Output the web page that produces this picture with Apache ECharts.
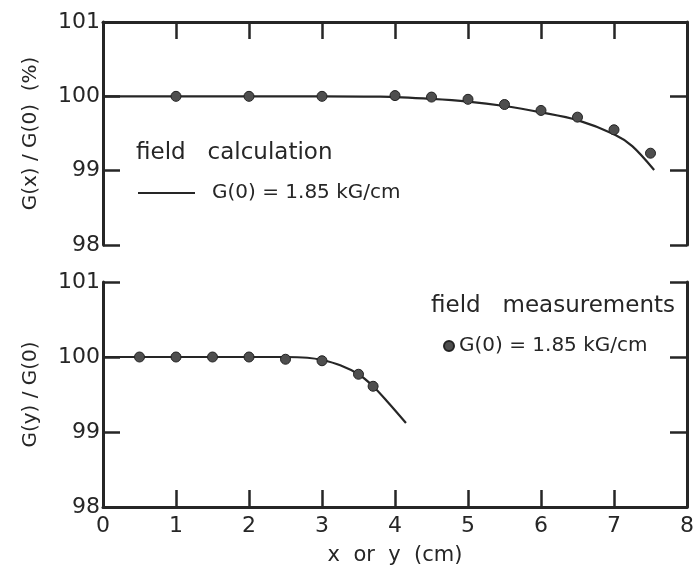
<!DOCTYPE html>
<html>
<head>
<meta charset="utf-8">
<script src="https://cdn.jsdelivr.net/npm/echarts@6/dist/echarts.min.js"></script>
<style>
html,body{margin:0;padding:0;background:#fff;}
#chart{width:698px;height:579px;}
</style>
</head>
<body>
<div id="chart"></div>
<script>
// ---- data ----
const xTicks = [0, 1, 2, 3, 4, 5, 6, 7, 8];
const yTicks = [98, 99, 100, 101];

// top panel: G(x)/G(0) (%)
const calcX = [[0,100],[1,100],[2,100],[3,100],[3.8,99.995],[4.5,99.965],[5,99.93],[5.5,99.87],[6,99.785],[6.5,99.68],[7,99.49],[7.25,99.33],[7.55,99.01]];
const measX = [[1,100],[2,100],[3,100],[4,100.01],[4.5,99.99],[5,99.96],[5.5,99.89],[6,99.81],[6.5,99.72],[7,99.55],[7.5,99.235]];

// bottom panel: G(y)/G(0)
const calcY = [[0,100],[1,100],[2,100],[2.5,100],[2.8,99.99],[3,99.96],[3.25,99.89],[3.5,99.77],[3.7,99.61],[3.9,99.40],[4.15,99.12]];
const measY = [[0.5,100],[1,100],[1.5,100],[2,100],[2.5,99.97],[3,99.95],[3.5,99.77],[3.7,99.61]];

const calcName = 'field calculation';
const measName = 'field measurements';
const itemLabel = 'G(0) = 1.85 kG/cm';

// ---- chart ----
const FONT = 'DejaVu Sans';
const INK = '#262626';
const chart = echarts.init(document.getElementById('chart'), null, {renderer: 'canvas'});

const lineStyle = {color: INK, width: 3};
const tickStyle = {color: INK, width: 2.5};
const xMin = xTicks[0], xMax = xTicks[xTicks.length - 1];
const yMin = yTicks[0], yMax = yTicks[yTicks.length - 1];

function xAxisCfg(gridIndex, position, showLabels, name) {
  return {
    type: 'value', gridIndex, position, min: xMin, max: xMax, interval: 1,
    axisLine: {show: true, onZero: false, lineStyle},
    axisTick: {show: true, inside: true, length: 17, lineStyle: tickStyle},
    axisLabel: {show: showLabels, fontFamily: FONT, fontSize: 22, color: INK, margin: 8},
    splitLine: {show: false},
    name: name || '', nameLocation: 'middle', nameGap: 38,
    nameTextStyle: {fontFamily: FONT, fontSize: 21, color: INK}
  };
}
function yAxisCfg(gridIndex, position, showLabels, name) {
  return {
    type: 'value', gridIndex, position, min: yMin, max: yMax, interval: 1,
    axisLine: {show: true, onZero: false, lineStyle},
    axisTick: {show: true, inside: true, length: 17, lineStyle: tickStyle},
    axisLabel: {show: showLabels, fontFamily: FONT, fontSize: 22, color: INK, margin: 3},
    splitLine: {show: false},
    name: name || '', nameLocation: 'middle', nameGap: 62, nameRotate: 90,
    nameTextStyle: {fontFamily: FONT, fontSize: 20, color: INK}
  };
}

const option = {
  backgroundColor: '#fff',
  animation: false,
  grid: [
    {left: 103, right: 11, top: 22, height: 223},
    {left: 103, right: 11, top: 282, height: 225}
  ],
  xAxis: [
    xAxisCfg(0, 'top', false),
    xAxisCfg(1, 'bottom', true, 'x  or  y  (cm)')
  ],
  yAxis: [
    yAxisCfg(0, 'left', true, 'G(x) / G(0)  (%)'),
    yAxisCfg(0, 'right', false),
    yAxisCfg(1, 'left', true, 'G(y) / G(0)'),
    yAxisCfg(1, 'right', false)
  ],
  legend: [
    {
      data: [{name: calcName, icon: 'rect'}],
      left: 138, top: 183, padding: 0, itemWidth: 57, itemHeight: 2,
      selectedMode: false,
      formatter: () => itemLabel,
      textStyle: {fontFamily: FONT, fontSize: 20, color: INK, padding: [0, 0, 0, 12]}
    },
    {
      data: [{name: measName, icon: 'circle'}],
      left: 443, top: 336, padding: 0, itemWidth: 10, itemHeight: 10,
      selectedMode: false,
      formatter: () => itemLabel,
      textStyle: {fontFamily: FONT, fontSize: 20, color: INK}
    }
  ],
  graphic: [
    {type: 'text', left: 136, top: 142, style: {text: 'field   calculation', font: '23px "DejaVu Sans"', fill: INK}},
    {type: 'text', left: 431, top: 295, style: {text: 'field   measurements', font: '23px "DejaVu Sans"', fill: INK}}
  ],
  series: [
    {
      name: calcName, type: 'line', xAxisIndex: 0, yAxisIndex: 0, data: calcX,
      smooth: 0.3, showSymbol: false, symbol: 'none',
      lineStyle: {color: INK, width: 2.2}, itemStyle: {color: INK}, z: 3
    },
    {
      name: measName, type: 'scatter', xAxisIndex: 0, yAxisIndex: 0, data: measX,
      symbol: 'circle', symbolSize: 10,
      itemStyle: {color: '#4e4e4e', borderColor: '#222', borderWidth: 1, opacity: 1}, z: 4
    },
    {
      name: calcName, type: 'line', xAxisIndex: 1, yAxisIndex: 2, data: calcY,
      smooth: 0.3, showSymbol: false, symbol: 'none',
      lineStyle: {color: INK, width: 2.2}, itemStyle: {color: INK}, z: 3
    },
    {
      name: measName, type: 'scatter', xAxisIndex: 1, yAxisIndex: 2, data: measY,
      symbol: 'circle', symbolSize: 10,
      itemStyle: {color: '#4e4e4e', borderColor: '#222', borderWidth: 1, opacity: 1}, z: 4
    }
  ]
};
chart.setOption(option);
</script>
</body>
</html>
